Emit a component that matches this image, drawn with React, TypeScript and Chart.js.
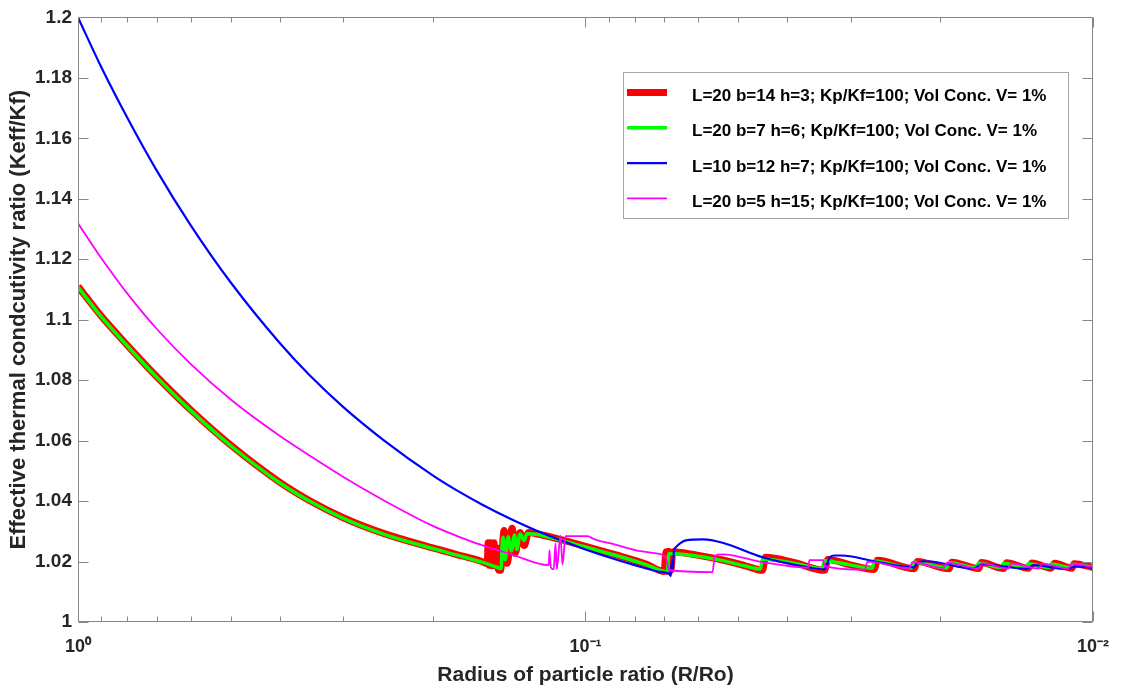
import { useEffect, useRef } from "react";
import { Chart, registerables } from "chart.js";

Chart.register(...registerables);

const FONT = 'Arial, "Liberation Sans", Helvetica, sans-serif';
const TEXT = "#262626";
const AXIS = "#868686";

// ---- data (x = R/Ro, y = Keff/Kf) ----
const redX = [1, 0.9, 0.8, 0.7, 0.6, 0.5, 0.4, 0.35, 0.3, 0.25, 0.2, 0.18, 0.16, 0.1562, 0.1555, 0.1548, 0.154, 0.1528, 0.1515, 0.15, 0.1493, 0.1485, 0.147, 0.1447, 0.1427, 0.1395, 0.1376, 0.1346, 0.132, 0.1295, 0.125, 0.1176, 0.1104, 0.1, 0.087, 0.076, 0.07, 0.0694, 0.069, 0.0685, 0.0679, 0.0673, 0.0649, 0.0606, 0.0537, 0.0484, 0.0448, 0.0442, 0.0387, 0.0338, 0.0333, 0.0302, 0.027, 0.0266, 0.0225, 0.0222, 0.0192, 0.019, 0.0168, 0.0166, 0.015, 0.0148, 0.0134, 0.0132, 0.0121, 0.0119, 0.011, 0.0109, 0.01];
const redY = [1.111, 1.1012, 1.0916, 1.0812, 1.0702, 1.0585, 1.0462, 1.0402, 1.0345, 1.0293, 1.0245, 1.0224, 1.02, 1.0193, 1.0262, 1.0188, 1.0262, 1.0186, 1.0262, 1.0184, 1.0245, 1.0172, 1.0171, 1.0303, 1.0194, 1.031, 1.0227, 1.0296, 1.0253, 1.0296, 1.0292, 1.0282, 1.027, 1.025, 1.0222, 1.0192, 1.0167, 1.0232, 1.0168, 1.0234, 1.017, 1.0232, 1.023, 1.0222, 1.0205, 1.0186, 1.0171, 1.0214, 1.0196, 1.0171, 1.0207, 1.019, 1.0174, 1.0204, 1.0176, 1.02, 1.0176, 1.0198, 1.0177, 1.0197, 1.0177, 1.0196, 1.0178, 1.0195, 1.0178, 1.0194, 1.0178, 1.0193, 1.018];

const greenX = [1, 0.9, 0.8, 0.7, 0.6, 0.5, 0.4, 0.35, 0.3, 0.25, 0.2, 0.18, 0.16, 0.1493, 0.1466, 0.146, 0.1453, 0.144, 0.142, 0.14, 0.138, 0.1365, 0.1346, 0.132, 0.1304, 0.125, 0.1176, 0.1104, 0.1, 0.087, 0.076, 0.069, 0.0685, 0.0664, 0.0606, 0.0537, 0.0484, 0.0452, 0.0448, 0.0387, 0.0342, 0.0338, 0.0302, 0.0272, 0.027, 0.0228, 0.0225, 0.0194, 0.0192, 0.017, 0.0168, 0.0152, 0.015, 0.0136, 0.0134, 0.0122, 0.0121, 0.0111, 0.011, 0.01];
const greenY = [1.1108, 1.101, 1.0914, 1.081, 1.07, 1.0583, 1.046, 1.04, 1.0343, 1.0291, 1.0243, 1.0222, 1.0198, 1.0181, 1.0177, 1.0255, 1.028, 1.0205, 1.0282, 1.0235, 1.0288, 1.024, 1.0291, 1.027, 1.0292, 1.029, 1.028, 1.0268, 1.0248, 1.022, 1.019, 1.0166, 1.0226, 1.0226, 1.0218, 1.0203, 1.0185, 1.0175, 1.0208, 1.0194, 1.0177, 1.0203, 1.0189, 1.0178, 1.0202, 1.0179, 1.0198, 1.0179, 1.0196, 1.018, 1.0195, 1.018, 1.0194, 1.018, 1.0193, 1.018, 1.0192, 1.018, 1.0191, 1.0182];

const blueX = [1, 0.9, 0.8, 0.7, 0.6, 0.5, 0.4, 0.35, 0.3, 0.25, 0.2, 0.18, 0.16, 0.14, 0.12, 0.1, 0.09, 0.08, 0.072, 0.0685, 0.0679, 0.0676, 0.0673, 0.067, 0.0664, 0.0649, 0.0634, 0.0587, 0.0537, 0.0448, 0.0364, 0.0338, 0.033, 0.0323, 0.0313, 0.027, 0.0225, 0.0222, 0.0212, 0.0172, 0.0166, 0.0135, 0.0131, 0.0113, 0.0108, 0.01];
const blueY = [1.2, 1.1836, 1.1669, 1.1494, 1.1313, 1.1123, 1.0922, 1.0817, 1.0711, 1.0602, 1.0485, 1.0437, 1.0389, 1.034, 1.029, 1.024, 1.0214, 1.0188, 1.0167, 1.016, 1.0152, 1.02, 1.0172, 1.023, 1.0247, 1.0262, 1.027, 1.0273, 1.0262, 1.0214, 1.0181, 1.0174, 1.0214, 1.022, 1.022, 1.0201, 1.0181, 1.0197, 1.0201, 1.0176, 1.0191, 1.0176, 1.0188, 1.0175, 1.0184, 1.0179];

const pinkX = [1, 0.9, 0.8, 0.7, 0.6, 0.5, 0.4, 0.35, 0.3, 0.25, 0.2, 0.18, 0.16, 0.14, 0.1181, 0.1178, 0.117, 0.1155, 0.1146, 0.1139, 0.112, 0.111, 0.1095, 0.104, 0.099, 0.0965, 0.087, 0.0795, 0.0726, 0.0694, 0.0685, 0.0562, 0.0556, 0.0537, 0.0448, 0.0364, 0.0362, 0.034, 0.0338, 0.0282, 0.0278, 0.023, 0.0227, 0.0197, 0.0194, 0.0168, 0.0166, 0.0147, 0.0145, 0.0128, 0.0126, 0.0112, 0.011, 0.01];
const pinkY = [1.1319, 1.1204, 1.1087, 1.097, 1.0854, 1.0736, 1.0615, 1.0551, 1.048, 1.0403, 1.0318, 1.0286, 1.0254, 1.0224, 1.0188, 1.0237, 1.018, 1.0174, 1.026, 1.0176, 1.0286, 1.019, 1.0284, 1.0284, 1.0284, 1.0275, 1.0255, 1.0237, 1.0227, 1.0212, 1.0172, 1.0165, 1.022, 1.0224, 1.0198, 1.018, 1.0205, 1.0205, 1.0185, 1.0173, 1.02, 1.0178, 1.0198, 1.0178, 1.0196, 1.0177, 1.0195, 1.0177, 1.0194, 1.0177, 1.0193, 1.0177, 1.0192, 1.0182];

const seriesLabels = [
  "L=20 b=14 h=3; Kp/Kf=100; Vol Conc. V= 1%",
  "L=20 b=7 h=6; Kp/Kf=100; Vol Conc. V= 1%",
  "L=10 b=12 h=7; Kp/Kf=100; Vol Conc. V= 1%",
  "L=20 b=5 h=15; Kp/Kf=100; Vol Conc. V= 1%",
];
const seriesColors = ["#ff0000", "#00ff00", "#0000ff", "#ff00ff"];
const seriesWidths = [7, 3.5, 2.2, 1.8];

const xTickValues = [1, 0.1, 0.01];
const xTickLabels = ["10\u2070", "10\u207B\u00B9", "10\u207B\u00B2"];
const xMinorValues = [0.9, 0.8, 0.7, 0.6, 0.5, 0.4, 0.3, 0.2, 0.09, 0.08, 0.07, 0.06, 0.05, 0.04, 0.03, 0.02];
const yMin = 1;
const yMax = 1.2;
const yStep = 0.02;

const xTitle = "Radius of particle ratio (R/Ro)";
const yTitle = "Effective thermal condcutivity ratio (Keff/Kf)";

const toPoints = (xs: number[], ys: number[]) => xs.map((x, i) => ({ x, y: ys[i] }));

const framePlugin = {
  id: "frame",
  afterDatasetsDraw(chart: any) {
    const { ctx, chartArea, scales } = chart;
    const { left, right, top, bottom } = chartArea;
    const xs = scales.x;
    const ys = scales.y;
    ctx.save();
    ctx.strokeStyle = AXIS;
    ctx.lineWidth = 1;
    const L = Math.round(left) + 0.5;
    const R = Math.round(right) - 0.5;
    const T = Math.round(top) + 0.5;
    const B = Math.round(bottom) - 0.5;
    ctx.beginPath();
    ctx.moveTo(L, T);
    ctx.lineTo(R, T);
    ctx.lineTo(R, B);
    ctx.lineTo(L, B);
    ctx.closePath();
    ctx.stroke();
    ctx.beginPath();
    const major = 10;
    const minor = 5;
    xTickValues.forEach((v) => {
      const p = Math.round(xs.getPixelForValue(v)) + 0.5;
      ctx.moveTo(p, B);
      ctx.lineTo(p, B - major);
      ctx.moveTo(p, T);
      ctx.lineTo(p, T + major);
    });
    xMinorValues.forEach((v) => {
      const p = Math.round(xs.getPixelForValue(v)) + 0.5;
      ctx.moveTo(p, B);
      ctx.lineTo(p, B - minor);
      ctx.moveTo(p, T);
      ctx.lineTo(p, T + minor);
    });
    ys.ticks.forEach((t: any) => {
      const p = Math.round(ys.getPixelForValue(t.value)) + 0.5;
      ctx.moveTo(L, p);
      ctx.lineTo(L + major, p);
      ctx.moveTo(R, p);
      ctx.lineTo(R - major, p);
    });
    ctx.stroke();
    ctx.restore();
  },
};

const legendPlugin = {
  id: "boxLegend",
  afterDraw(chart: any) {
    const { ctx } = chart;
    const bx = 623;
    const by = 72;
    const bw = 445;
    const bh = 146;
    ctx.save();
    ctx.fillStyle = "#ffffff";
    ctx.fillRect(bx, by, bw, bh);
    ctx.strokeStyle = "#a6a6a6";
    ctx.lineWidth = 1;
    ctx.strokeRect(bx + 0.5, by + 0.5, bw, bh);
    ctx.font = `bold 17px ${FONT}`;
    ctx.textBaseline = "alphabetic";
    ctx.textAlign = "left";
    chart.data.datasets.forEach((ds: any, i: number) => {
      const cy = by + 20.5 + i * 35.3;
      ctx.strokeStyle = ds.borderColor;
      ctx.lineWidth = ds.borderWidth;
      ctx.lineCap = "butt";
      ctx.beginPath();
      ctx.moveTo(bx + 4, cy);
      ctx.lineTo(bx + 44, cy);
      ctx.stroke();
      ctx.fillStyle = "#000000";
      ctx.fillText(ds.label, bx + 69, cy + 8.6);
    });
    ctx.restore();
  },
};

export default function App() {
  const ref = useRef<HTMLCanvasElement>(null);
  useEffect(() => {
    document.body.style.margin = "0";
    const datasets = [
      [redX, redY],
      [greenX, greenY],
      [blueX, blueY],
      [pinkX, pinkY],
    ].map(([xs, ys], i) => ({
      label: seriesLabels[i],
      data: toPoints(xs, ys),
      borderColor: seriesColors[i],
      backgroundColor: seriesColors[i],
      borderWidth: seriesWidths[i],
      pointRadius: 0,
      cubicInterpolationMode: "monotone" as const,
      fill: false,
      borderJoinStyle: "round" as const,
      order: 4 - i,
    }));
    const chart = new Chart(ref.current as HTMLCanvasElement, {
      type: "line",
      data: { datasets },
      options: {
        animation: false,
        responsive: false,
        layout: { padding: { top: 14, right: 23, bottom: 0, left: 0 } },
        plugins: {
          legend: { display: false },
          tooltip: { enabled: false },
        },
        scales: {
          x: {
            type: "logarithmic",
            reverse: true,
            min: 0.01,
            max: 1,
            position: "bottom",
            grid: { display: false, drawTicks: false },
            border: { display: false },
            afterBuildTicks: (s: any) => {
              s.ticks = xTickValues.map((v) => ({ value: v }));
            },
            afterFit: (s: any) => {
              s.height = 69;
            },
            ticks: {
              autoSkip: false,
              maxRotation: 0,
              padding: 14,
              color: TEXT,
              font: { family: FONT, size: 18, weight: "bold" },
              callback: (v: any) => {
                const idx = xTickValues.findIndex((t) => Math.abs(t - Number(v)) < 1e-9);
                return idx >= 0 ? xTickLabels[idx] : "";
              },
            },
            title: {
              display: true,
              text: xTitle,
              color: TEXT,
              font: { family: FONT, size: 21, weight: "bold" },
              padding: { top: 0, bottom: 3 },
            },
          },
          y: {
            type: "linear",
            min: yMin,
            max: yMax,
            grid: { display: false, drawTicks: false },
            border: { display: false },
            afterFit: (s: any) => {
              s.width = 78;
            },
            ticks: {
              stepSize: yStep,
              padding: 6,
              color: TEXT,
              font: { family: FONT, size: 19, weight: "bold" },
              callback: (v: any) => String(parseFloat(Number(v).toFixed(2))),
            },
            title: {
              display: true,
              text: yTitle,
              color: TEXT,
              font: { family: FONT, size: 22, weight: "bold" },
              padding: { top: 6, bottom: 0 },
            },
          },
        },
      } as any,
      plugins: [framePlugin, legendPlugin],
    });
    return () => chart.destroy();
  }, []);
  return (
    <div style={{ width: 1123, height: 691 }}>
      <canvas ref={ref} width={1123} height={691} style={{ display: "block" }} />
    </div>
  );
}
